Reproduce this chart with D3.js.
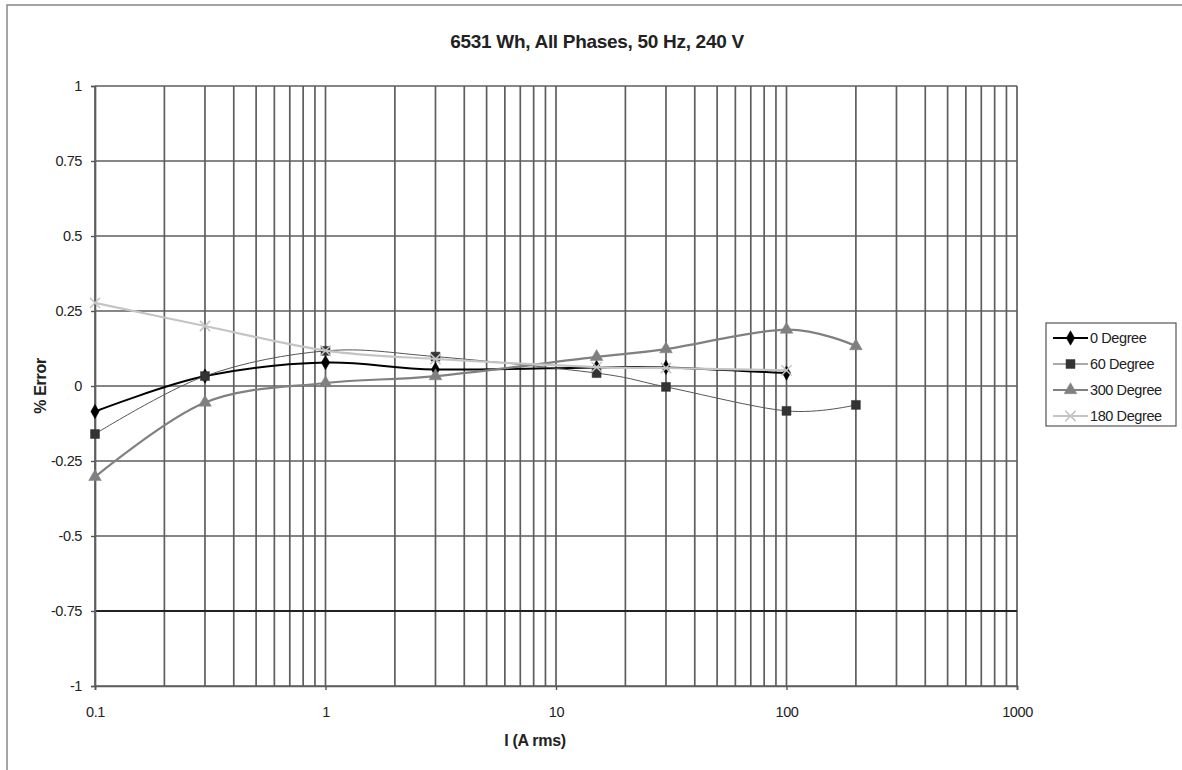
<!DOCTYPE html>
<html><head><meta charset="utf-8">
<script src="https://cdn.jsdelivr.net/npm/d3@7/dist/d3.min.js"></script>
<style>body{margin:0;background:#fff;}svg{display:block;font-family:"Liberation Sans",Arial,sans-serif;}</style>
</head><body>
<svg id="c" width="1182" height="770"></svg>
<script>
const currents = [0.1, 0.3, 1, 3, 15, 30, 100, 200];
const deg0   = [-0.085, 0.033, 0.078, 0.055, 0.062, 0.062, 0.043, null];
const deg60  = [-0.16, 0.033, 0.117, 0.098, 0.043, -0.003, -0.083, -0.063];
const deg300 = [-0.303, -0.055, 0.01, 0.033, 0.097, 0.123, 0.188, 0.133];
const deg180 = [0.277, 0.2, 0.118, 0.09, 0.063, 0.06, 0.052, null];
const seriesNames = ["0 Degree", "60 Degree", "300 Degree", "180 Degree"];
const yTicks = [-1, -0.75, -0.5, -0.25, 0, 0.25, 0.5, 0.75, 1];
const xTicks = [0.1, 1, 10, 100, 1000];

const svg = d3.select("#c");
const L = 95, R = 1017, T = 86, B = 686;
const x = d3.scaleLog().domain([0.1, 1000]).range([L, R]);
const y = d3.scaleLinear().domain([-1, 1]).range([B, T]);

// outer frame
svg.append("path").attr("d", "M7,770 V5 H1182").attr("fill", "none").attr("stroke", "#888").attr("stroke-width", 1.5);

// title
svg.append("text").attr("x", 597).attr("y", 48).attr("text-anchor", "middle")
  .attr("font-size", 19).attr("font-weight", "bold").attr("fill", "#222").attr("letter-spacing", -0.3)
  .text("6531 Wh, All Phases, 50 Hz, 240 V");

// vertical gridlines (log minor)
const minor = [];
for (let e = -1; e < 3; e++) for (let m = 1; m <= 9; m++) minor.push(m * Math.pow(10, e));
minor.push(1000);
svg.append("g").selectAll("line").data(minor).join("line")
  .attr("x1", d => x(d)).attr("x2", d => x(d)).attr("y1", T).attr("y2", B)
  .attr("stroke", "#5e5e5e").attr("stroke-width", 1.7);

// horizontal gridlines
svg.append("g").selectAll("line").data(yTicks).join("line")
  .attr("x1", L).attr("x2", R).attr("y1", d => y(d)).attr("y2", d => y(d))
  .attr("stroke", d => d === -0.75 ? "#222" : "#5e5e5e").attr("stroke-width", d => d === -0.75 ? 2 : 1.7);

// axes
const yAxis = d3.axisLeft(y).tickValues(yTicks).tickSize(4).tickPadding(9).tickFormat(d => String(d));
const gy = svg.append("g").attr("transform", `translate(${L},0)`).call(yAxis);
const xAxis = d3.axisBottom(x).tickValues(xTicks).tickSize(4).tickPadding(17).tickFormat(d => String(d));
const gx = svg.append("g").attr("transform", `translate(0,${B})`).call(xAxis);
[gy, gx].forEach(g => {
  g.select(".domain").attr("stroke", "#5e5e5e").attr("stroke-width", 1.7);
  g.selectAll(".tick line").attr("stroke", "#555").attr("stroke-width", 1.4);
  g.selectAll(".tick text").attr("font-size", 14.5).attr("fill", "#222").attr("letter-spacing", -0.4)
    .attr("font-family", "Liberation Sans, Arial, sans-serif");
});

// axis labels
svg.append("text").attr("x", 535).attr("y", 746).attr("text-anchor", "middle")
  .attr("font-size", 16).attr("font-weight", "bold").attr("fill", "#222").attr("letter-spacing", -0.3).text("I (A rms)");
svg.append("text").attr("transform", "translate(46,386) rotate(-90)").attr("text-anchor", "middle")
  .attr("font-size", 16).attr("font-weight", "bold").attr("fill", "#222").attr("letter-spacing", -0.3).text("% Error");

// series
const styles = [
  {vals: deg0,   color: "#000",    width: 2,   marker: "diamond", size: 60},
  {vals: deg60,  color: "#333",    width: 1,   marker: "square",  size: 80, lineColor: "#555"},
  {vals: deg300, color: "#808080", width: 2.2, marker: "triangle", size: 70},
  {vals: deg180, color: "#c4c4c4", width: 2.2, marker: "cross",   size: 70},
];
const symType = {diamond: d3.symbolDiamond, square: d3.symbolSquare, triangle: d3.symbolTriangle, cross: d3.symbolX};
const line = d3.line().x(d => x(d.c)).y(d => y(d.v)).curve(d3.curveCardinal.tension(0));

function drawMarker(g, s, cx, cy) {
  const p = g.append("path").attr("transform", `translate(${cx},${cy})`)
    .attr("d", d3.symbol().type(symType[s.marker]).size(s.size)());
  if (s.marker === "cross") p.attr("fill", "none").attr("stroke", s.color).attr("stroke-width", 1.5);
  else p.attr("fill", s.color).attr("stroke", s.color).attr("stroke-width", 0.5);
}

styles.forEach(s => {
  const pts = currents.map((c, i) => ({c, v: s.vals[i]})).filter(d => d.v !== null);
  const g = svg.append("g");
  g.append("path").attr("d", line(pts)).attr("fill", "none")
    .attr("stroke", s.lineColor || s.color).attr("stroke-width", s.width);
  pts.forEach(d => drawMarker(g, s, x(d.c), y(d.v)));
});

// legend
const lg = svg.append("g");
lg.append("rect").attr("x", 1046).attr("y", 323).attr("width", 130).attr("height", 103)
  .attr("fill", "#fff").attr("stroke", "#555").attr("stroke-width", 1.2);
seriesNames.forEach((n, i) => {
  const s = styles[i];
  const ly = 338 + i * 26;
  lg.append("line").attr("x1", 1053).attr("x2", 1088).attr("y1", ly).attr("y2", ly)
    .attr("stroke", s.lineColor || s.color).attr("stroke-width", s.width);
  drawMarker(lg, s, 1070.5, ly);
  lg.append("text").attr("x", 1090).attr("y", ly + 5).attr("font-size", 14.5).attr("fill", "#222")
    .attr("letter-spacing", -0.4).text(n);
});
</script>
</body></html>
